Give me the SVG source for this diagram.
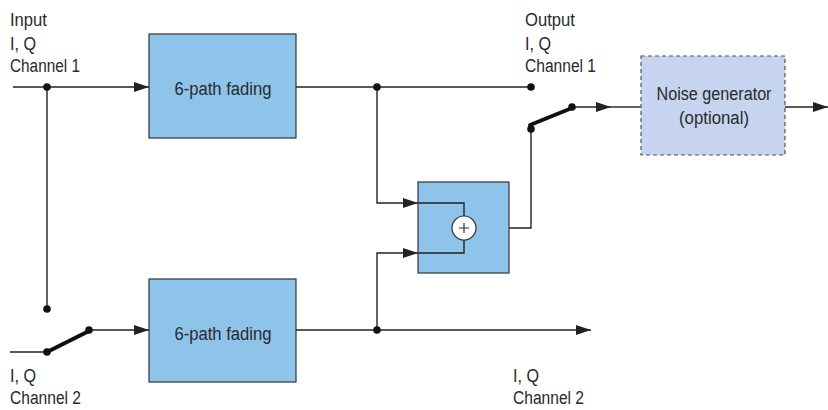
<svg xmlns="http://www.w3.org/2000/svg" width="828" height="410" viewBox="0 0 828 410">
<defs>
<marker id="arr" markerWidth="16" markerHeight="12" refX="15" refY="6" orient="auto" markerUnits="userSpaceOnUse">
<path d="M0,1 L15,6 L0,11 Z" fill="#222"/>
</marker>
<style>
.t{font-family:"Liberation Sans",Arial,sans-serif;font-size:18px;fill:#2a2a2a}
.box{fill:#8ec3ea;stroke:#333;stroke-width:1.2}
.ln{fill:none;stroke:#222;stroke-width:1.4}
.sw{fill:none;stroke:#111;stroke-width:4;stroke-linecap:round}
.dot{fill:#111}
</style>
</defs>
<rect width="828" height="410" fill="#fff"/>
<g id="labels">
<text class="t" x="10" y="26" textLength="37" lengthAdjust="spacingAndGlyphs">Input</text>
<text class="t" x="10" y="50" textLength="26" lengthAdjust="spacingAndGlyphs">I, Q</text>
<text class="t" x="10" y="72" textLength="70" lengthAdjust="spacingAndGlyphs">Channel 1</text>
<text class="t" x="525" y="26" textLength="50" lengthAdjust="spacingAndGlyphs">Output</text>
<text class="t" x="525" y="50" textLength="26" lengthAdjust="spacingAndGlyphs">I, Q</text>
<text class="t" x="525" y="72" textLength="71" lengthAdjust="spacingAndGlyphs">Channel 1</text>
<text class="t" x="10" y="382" textLength="26" lengthAdjust="spacingAndGlyphs">I, Q</text>
<text class="t" x="10" y="404" textLength="71" lengthAdjust="spacingAndGlyphs">Channel 2</text>
<text class="t" x="513" y="382" textLength="26" lengthAdjust="spacingAndGlyphs">I, Q</text>
<text class="t" x="513" y="404" textLength="71" lengthAdjust="spacingAndGlyphs">Channel 2</text>
</g>
<g id="connectors">
<path class="ln" d="M13,87 H149" marker-end="url(#arr)"/>
<path class="ln" d="M47,87 V309" stroke="#555"/>
<path class="ln" d="M10,352 H47"/>
<path class="sw" d="M47,352 L89,331"/>
<path class="ln" d="M89,330 H149" marker-end="url(#arr)"/>
<path class="ln" d="M296,87 H531"/>
<path class="ln" d="M377,87 V203 H418" marker-end="url(#arr)"/>
<path class="ln" d="M296,330 H591" marker-end="url(#arr)"/>
<path class="ln" d="M377,330 V253 H418" marker-end="url(#arr)"/>
<path class="ln" d="M418,203 H464 V216"/>
<path class="ln" d="M418,253 H464 V240"/>
<path class="ln" d="M476,228 H531 V129"/>
<path class="sw" d="M530,125 L572,108"/>
<path class="ln" d="M572,107 H611" marker-end="url(#arr)"/>
<path class="ln" d="M611,107 H641"/>
<path class="ln" d="M785,107 H828" marker-end="url(#arr)"/>
<circle class="dot" cx="47" cy="87" r="3.8"/>
<circle class="dot" cx="47" cy="309" r="3.8"/>
<circle class="dot" cx="47" cy="352" r="3.8"/>
<circle class="dot" cx="89" cy="330" r="3.8"/>
<circle class="dot" cx="377" cy="87" r="3.8"/>
<circle class="dot" cx="531" cy="87" r="3.8"/>
<circle class="dot" cx="377" cy="330" r="3.8"/>
<circle class="dot" cx="531" cy="129" r="3.8"/>
<circle class="dot" cx="572" cy="107" r="3.8"/>
</g>
<g id="fading1">
<rect class="box" x="149" y="34" width="147" height="104"/>
<text class="t" x="223" y="95" text-anchor="middle" textLength="97" lengthAdjust="spacingAndGlyphs">6-path fading</text>
</g>
<g id="fading2">
<rect class="box" x="149" y="279" width="147" height="103"/>
<text class="t" x="223" y="340" text-anchor="middle" textLength="97" lengthAdjust="spacingAndGlyphs">6-path fading</text>
</g>
<g id="combiner">
<rect class="box" x="418" y="182" width="91" height="91"/>
<path class="ln" d="M418,203 H464 V216 M418,253 H464 V240"/>
<circle cx="464" cy="228" r="12" fill="#fff" stroke="#333" stroke-width="1.2"/>
<path d="M459,228 H469 M464,223 V233" stroke="#333" stroke-width="1.2"/>
</g>
<g id="noise">
<rect x="641" y="56" width="144" height="99" fill="#c6d4ef" stroke="#555" stroke-width="1.2" stroke-dasharray="4,3"/>
<text class="t" x="714" y="100" text-anchor="middle" textLength="115" lengthAdjust="spacingAndGlyphs">Noise generator</text>
<text class="t" x="714" y="124" text-anchor="middle" textLength="70" lengthAdjust="spacingAndGlyphs">(optional)</text>
</g>
</svg>
